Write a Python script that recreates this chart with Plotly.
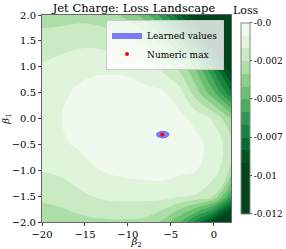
import numpy as np
import plotly.graph_objects as go

# ---- data ----
beta2 = [-20, -18, -16, -14, -12, -10, -8, -6, -4, -2, 0, 2]
beta1 = [-2.0, -1.5, -1.0, -0.5, 0.0, 0.5, 1.0, 1.5, 2.0]
# loss values (x 1e-3), one list per beta1 row
loss_m20 = [-2.88, -2.80, -2.68, -2.56, -2.52, -2.52, -2.64, -3.36, -4.80, -6.80, -9.20, -11.20]
loss_m15 = [-2.24, -2.12, -1.84, -1.58, -1.40, -1.36, -1.34, -1.28, -1.52, -1.68, -2.40, -5.60]
loss_m10 = [-1.56, -1.44, -1.16, -0.88, -0.68, -0.56, -0.48, -0.48, -0.60, -0.80, -1.20, -2.56]
loss_m05 = [-1.16, -0.92, -0.74, -0.44, -0.28, -0.16, -0.08, -0.04, -0.20, -0.56, -1.16, -2.00]
loss_p00 = [-1.12, -0.84, -0.56, -0.40, -0.28, -0.20, -0.16, -0.16, -0.56, -1.08, -1.72, -3.20]
loss_p05 = [-1.20, -1.04, -0.68, -0.48, -0.40, -0.40, -0.56, -0.68, -1.28, -2.88, -4.64, -7.04]
loss_p10 = [-1.52, -1.28, -1.12, -0.99, -0.99, -1.04, -1.36, -1.84, -2.64, -4.24, -6.80, -9.60]
loss_p15 = [-2.08, -2.00, -1.84, -1.84, -2.00, -2.24, -2.48, -3.52, -5.20, -7.60, -10.00, -11.60]
loss_p20 = [-2.72, -2.72, -2.68, -2.72, -2.96, -3.44, -4.40, -6.00, -7.84, -9.60, -11.04, -11.92]
loss_rows = [loss_m20, loss_m15, loss_m10, loss_m05, loss_p00, loss_p05, loss_p10, loss_p15, loss_p20]
loss_scale = 1e-3

learned_beta2 = [-5.95]
learned_beta1 = [-0.31]
learned_spread_beta2 = [0.78]
learned_spread_beta1 = [0.075]
numeric_max_beta2 = [-6.0]
numeric_max_beta1 = [-0.31]

level_start, level_end, level_step = -0.012, 0.0, 0.0008
cbar_tickvals = [-0.012, -0.0096, -0.0072, -0.0048, -0.0024, 0.0]
cbar_ticktext = ['-0.012', '-0.01', '-0.007', '-0.005', '-0.002', '-0.0']

band_colors = ['#f0f9ed', '#e0f3db', '#c9eac3', '#acdea7', '#8ccf8a', '#6abf71',
               '#48ad5f', '#2f984e', '#198240', '#046c2d', '#00541f', '#00441b',
               '#00441b', '#00441b', '#00441b']

z = np.array(loss_rows) * loss_scale

nb = len(band_colors)
# colorscale used by the contour fill (band colours sampled at band centres)
colorscale = [[0.0, '#00441b']]
for k in range(nb - 1, -1, -1):
    colorscale.append([(nb - k) / (nb + 1), band_colors[k]])
colorscale.append([1.0, band_colors[0]])

# stepped colorscale for the colour bar (exact from start to end)
step_scale = []
for k in range(nb - 1, -1, -1):
    lo = (nb - 1 - k) / nb
    hi = (nb - k) / nb
    step_scale.append([lo, band_colors[k]])
    step_scale.append([hi, band_colors[k]])

FONT = '"DejaVu Serif", "Liberation Serif", serif'

fig = go.Figure()
fig.add_trace(go.Contour(
    x=beta2, y=beta1, z=z,
    autocontour=False,
    contours=dict(start=level_start, end=level_end, size=level_step, coloring='fill', showlines=False),
    line=dict(width=0, smoothing=1.3),
    colorscale=colorscale,
    showscale=False,
    showlegend=False,
    hoverinfo='skip',
))

# colour bar carrier
fig.add_trace(go.Scatter(
    x=[None], y=[None], mode='markers', showlegend=False, hoverinfo='skip',
    marker=dict(
        color=[(level_start + level_end) / 2], cmin=level_start, cmax=level_end,
        colorscale=step_scale, showscale=True,
        colorbar=dict(
            thickness=9, len=0.923, lenmode='fraction',
            x=1.053, xanchor='left', y=0.502, yanchor='middle',
            xpad=0, ypad=0,
            outlinecolor='#888', outlinewidth=1,
            tickvals=cbar_tickvals, ticktext=cbar_ticktext,
            ticks='outside', ticklen=2, tickcolor='#444',
            tickfont=dict(family=FONT, size=9, color='black'),
        ),
    ),
))

# learned values ellipse
t = np.linspace(0, 2 * np.pi, 60)
ex = learned_beta2[0] + learned_spread_beta2[0] * np.cos(t)
ey = learned_beta1[0] + learned_spread_beta1[0] * np.sin(t)
fig.add_trace(go.Scatter(
    x=ex, y=ey, mode='lines', fill='toself',
    fillcolor='rgba(0,0,255,0.5)', line=dict(width=0, color='rgba(0,0,255,0.5)'),
    name='Learned values',
))
fig.add_trace(go.Scatter(
    x=numeric_max_beta2, y=numeric_max_beta1, mode='markers',
    marker=dict(color='red', size=4),
    name='Numeric max',
))

axis_common = dict(
    showline=True, linecolor='#666', linewidth=1, mirror=True,
    ticks='outside', ticklen=3, tickcolor='#444',
    showgrid=False, zeroline=False, automargin=False,
    tickfont=dict(family=FONT, size=10, color='black'),
)
fig.update_xaxes(range=[-20, 2], tickvals=[-20, -15, -10, -5, 0],
                 title=dict(text='<i>β</i><sub>2</sub>', font=dict(family=FONT, size=10, color='black'), standoff=7),
                 **axis_common)
fig.update_yaxes(range=[-2, 2], tickvals=[-2, -1.5, -1, -0.5, 0, 0.5, 1, 1.5, 2], tickformat='.1f',
                 title=dict(text='<i>β</i><sub>1</sub>', font=dict(family=FONT, size=10, color='black'), standoff=2),
                 **axis_common)

fig.add_annotation(text='Loss', xref='paper', yref='paper', x=1.0, y=0.983,
                   xanchor='left', yanchor='bottom', showarrow=False,
                   font=dict(family=FONT, size=11, color='black'))

fig.update_layout(
    width=286, height=249,
    margin=dict(l=42, r=55, t=15, b=27, autoexpand=False),
    paper_bgcolor='white', plot_bgcolor='white',
    title=dict(text='Jet Charge: Loss Landscape', x=134 / 286, xref='container', xanchor='center',
               y=0.968, yref='container', yanchor='middle',
               font=dict(family=FONT, size=11.5, color='black')),
    legend=dict(x=0.963, xanchor='right', y=0.978, yanchor='top',
                bgcolor='rgba(255,255,255,0.8)', bordercolor='#ccc', borderwidth=1,
                font=dict(family=FONT, size=9, color='black'),
                itemwidth=30, tracegroupgap=0),
    font=dict(family=FONT),
)

fig.write_html('out.html', config={'displayModeBar': False},
               post_script="document.body.style.margin='0px';")
